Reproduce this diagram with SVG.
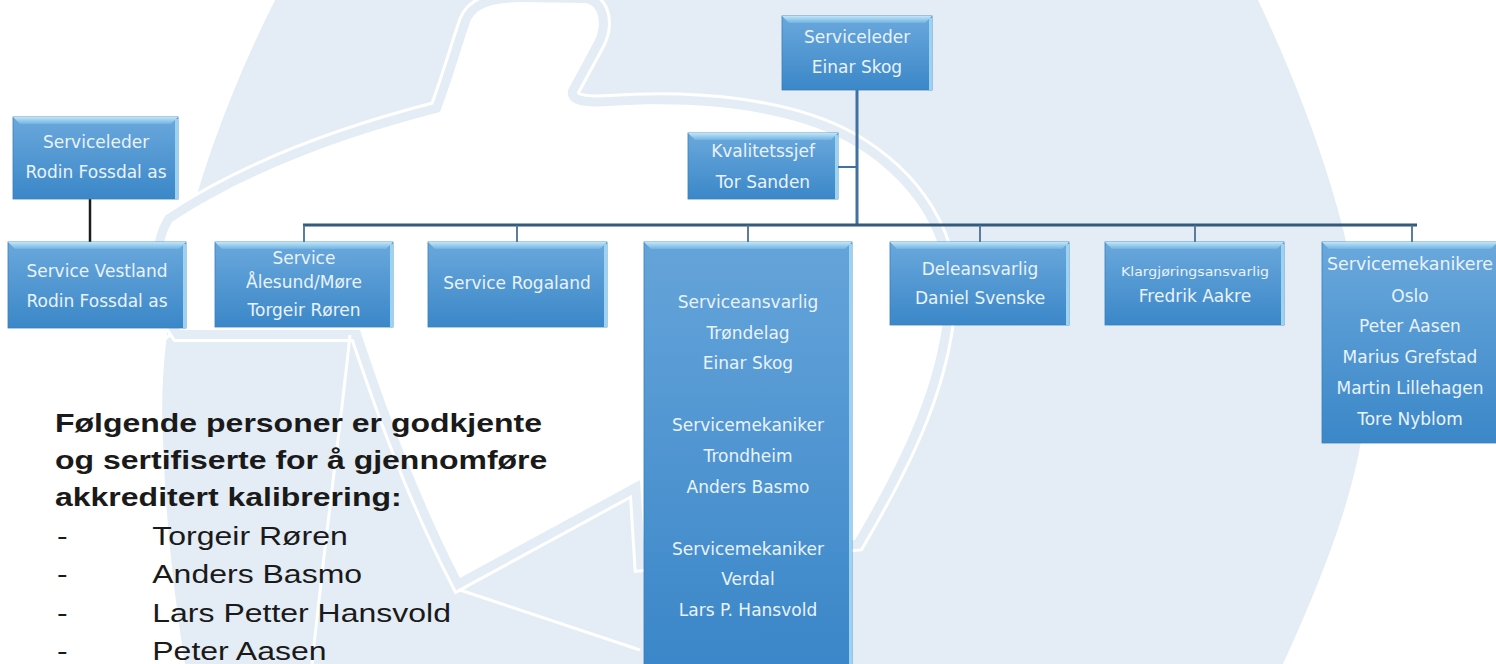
<svg xmlns="http://www.w3.org/2000/svg" width="1496" height="664" viewBox="0 0 1496 664">
<defs>
<linearGradient id="gBox" x1="0" y1="0" x2="0" y2="1">
<stop offset="0" stop-color="#6aa8dc"/>
<stop offset="1" stop-color="#3b87c8"/>
</linearGradient>
<linearGradient id="gTall" x1="0" y1="0" x2="0" y2="1">
<stop offset="0" stop-color="#65a4da"/>
<stop offset="1" stop-color="#3a86c8"/>
</linearGradient>
<linearGradient id="gBevel" x1="0" y1="0" x2="0" y2="1">
<stop offset="0" stop-color="#bfe6f8"/>
<stop offset="1" stop-color="#72b3e2"/>
</linearGradient>
<style>
.box{fill:url(#gBox);stroke:#3a7fba;stroke-width:0.8}
.tall{fill:url(#gTall);stroke:#3a7fba;stroke-width:0.8}
.bev{fill:url(#gBevel)}
.edge{fill:#9dd3f2}
.t{font-family:"DejaVu Sans","Liberation Sans",sans-serif;font-size:17px;fill:#e9f3fb;text-anchor:middle}
.ts{font-size:13px}
.bus{stroke:#33597b;stroke-width:3;fill:none}
.main{stroke:#3f72a0;stroke-width:3;fill:none}
.drop{stroke:#4a7192;stroke-width:1.8;fill:none}
.blk{stroke:#1c1c1c;stroke-width:2.5;fill:none}
.pb{font-family:"Liberation Sans",Arial,sans-serif;font-size:25px;font-weight:bold;fill:#1a1a1a}
.pr{font-family:"Liberation Sans",Arial,sans-serif;font-size:25px;fill:#1a1a1a}
.wm{fill:#e4edf5}
.wl{fill:none;stroke:#ffffff;stroke-width:3}
</style>
</defs>

<!-- background watermark -->
<g id="background">
<rect x="0" y="0" width="1496" height="664" fill="#ffffff"/>
<path class="wm" d="M275,0 C205,140 155,300 163,440 C166,530 175,600 185,664 L1283,664 C1340,540 1368,450 1366,380 C1362,250 1310,110 1258,0 Z"/>
<g>
<path d="M172,222 C250,170 350,135 440,112 C452,80 462,45 470,22 C476,8 490,3 520,2 L585,3 C600,5 602,25 595,40 L568,90 C566,104 580,108 610,106 C700,100 790,110 848,142 C915,180 950,240 945,300 C940,380 905,455 855,540 L645,560 L640,480 L460,578 C420,500 390,420 360,330 L180,330 C160,300 155,250 172,222 Z" fill="none" stroke="#ffffff" stroke-width="24"/>
<path d="M172,222 C250,170 350,135 440,112 C452,80 462,45 470,22 C476,8 490,3 520,2 L585,3 C600,5 602,25 595,40 L568,90 C566,104 580,108 610,106 C700,100 790,110 848,142 C915,180 950,240 945,300 C940,380 905,455 855,540 L645,560 L640,480 L460,578 C420,500 390,420 360,330 L180,330 C160,300 155,250 172,222 Z" fill="none" stroke="#e4edf5" stroke-width="18"/>
<path d="M172,222 C250,170 350,135 440,112 C452,80 462,45 470,22 C476,8 490,3 520,2 L585,3 C600,5 602,25 595,40 L568,90 C566,104 580,108 610,106 C700,100 790,110 848,142 C915,180 950,240 945,300 C940,380 905,455 855,540 L645,560 L640,480 L460,578 C420,500 390,420 360,330 L180,330 C160,300 155,250 172,222 Z" fill="#ffffff"/>
</g>
<path class="wl" d="M460,590 L640,650"/>
<path class="wl" d="M350,335 C340,430 325,540 312,664"/>
<path class="wl" d="M170,335 C120,380 60,345 0,340"/>
<path class="wl" d="M610,250 C650,280 650,340 600,420"/>
</g>

<!-- connectors -->
<g id="connectors">
<path class="main" d="M857,90 L857,225"/>
<path class="main" d="M838,167 L857,167" style="stroke-width:2"/>
<path class="bus" d="M303,225 L1417,225"/>
<path class="drop" d="M304,225 L304,242"/>
<path class="drop" d="M517,225 L517,242"/>
<path class="drop" d="M748,225 L748,242"/>
<path class="drop" d="M980,225 L980,242"/>
<path class="drop" d="M1195,225 L1195,242"/>
<path class="drop" d="M1412,225 L1412,242"/>
<path class="blk" d="M90,199 L90,243"/>
</g>

<!-- nodes -->
<g id="n-serviceleder-einar">
<rect class="box" x="782" y="16" width="150" height="74"/>
<path class="bev" d="M782,16 H932 L925,23 H789 Z"/>
<rect class="edge" x="929" y="18" width="3" height="72"/>
<text class="t" x="857" y="43">Serviceleder</text>
<text class="t" x="857" y="73">Einar Skog</text>
</g>

<g id="n-kvalitetssjef">
<rect class="box" x="688" y="133" width="150" height="66"/>
<path class="bev" d="M688,133 H838 L831,140 H695 Z"/>
<rect class="edge" x="835" y="135" width="3" height="64"/>
<text class="t" x="763" y="157">Kvalitetssjef</text>
<text class="t" x="763" y="188">Tor Sanden</text>
</g>

<g id="n-serviceleder-rodin">
<rect class="box" x="13" y="117" width="165" height="82"/>
<path class="bev" d="M13,117 H178 L171,124 H20 Z"/>
<rect class="edge" x="175" y="119" width="3" height="80"/>
<text class="t" x="96" y="148">Serviceleder</text>
<text class="t" x="96" y="178">Rodin Fossdal as</text>
</g>

<g id="n-vestland">
<rect class="box" x="8" y="242" width="178" height="86"/>
<path class="bev" d="M8,242 H186 L179,249 H15 Z"/>
<rect class="edge" x="183" y="244" width="3" height="84"/>
<text class="t" x="97" y="277">Service Vestland</text>
<text class="t" x="97" y="307">Rodin Fossdal as</text>
</g>

<g id="n-alesund">
<rect class="box" x="215" y="242" width="178" height="85"/>
<path class="bev" d="M215,242 H393 L386,249 H222 Z"/>
<rect class="edge" x="390" y="244" width="3" height="83"/>
<text class="t" x="304" y="264">Service</text>
<text class="t" x="304" y="288">Ålesund/Møre</text>
<text class="t" x="304" y="316">Torgeir Røren</text>
</g>

<g id="n-rogaland">
<rect class="box" x="428" y="242" width="179" height="85"/>
<path class="bev" d="M428,242 H607 L600,249 H435 Z"/>
<rect class="edge" x="604" y="244" width="3" height="83"/>
<text class="t" x="517" y="289">Service Rogaland</text>
</g>

<g id="n-trondelag">
<rect class="tall" x="644" y="242" width="208" height="430"/>
<path class="bev" d="M644,242 H852 L845,249 H651 Z"/>
<rect class="edge" x="849" y="244" width="3" height="428"/>
<text class="t" x="748" y="308">Serviceansvarlig</text>
<text class="t" x="748" y="339">Trøndelag</text>
<text class="t" x="748" y="369">Einar Skog</text>
<text class="t" x="748" y="431">Servicemekaniker</text>
<text class="t" x="748" y="462">Trondheim</text>
<text class="t" x="748" y="493">Anders Basmo</text>
<text class="t" x="748" y="555">Servicemekaniker</text>
<text class="t" x="748" y="585">Verdal</text>
<text class="t" x="748" y="616">Lars P. Hansvold</text>
</g>

<g id="n-deleansvarlig">
<rect class="box" x="890" y="242" width="179" height="83"/>
<path class="bev" d="M890,242 H1069 L1062,249 H897 Z"/>
<rect class="edge" x="1066" y="244" width="3" height="81"/>
<text class="t" x="980" y="275">Deleansvarlig</text>
<text class="t" x="980" y="304">Daniel Svenske</text>
</g>

<g id="n-klargjoring">
<rect class="box" x="1105" y="242" width="179" height="83"/>
<path class="bev" d="M1105,242 H1284 L1277,249 H1112 Z"/>
<rect class="edge" x="1281" y="244" width="3" height="81"/>
<text class="t ts" x="1195" y="276" textLength="148" lengthAdjust="spacingAndGlyphs">Klargjøringsansvarlig</text>
<text class="t" x="1195" y="302">Fredrik Aakre</text>
</g>

<g id="n-oslo">
<rect class="box" x="1322" y="242" width="176" height="201"/>
<path class="bev" d="M1322,242 H1498 L1491,249 H1329 Z"/>
<text class="t" x="1410" y="270" textLength="166" lengthAdjust="spacingAndGlyphs">Servicemekanikere</text>
<text class="t" x="1410" y="302">Oslo</text>
<text class="t" x="1410" y="332">Peter  Aasen</text>
<text class="t" x="1410" y="363">Marius Grefstad</text>
<text class="t" x="1410" y="394">Martin Lillehagen</text>
<text class="t" x="1410" y="425">Tore Nyblom</text>
</g>

<!-- text block -->
<g id="note" transform="translate(55,0) scale(1.28,1)">
<text class="pb" x="0" y="432">Følgende personer er godkjente</text>
<text class="pb" x="0" y="469">og sertifiserte for å gjennomføre</text>
<text class="pb" x="0" y="506">akkreditert kalibrering:</text>
<text class="pr" x="1.5" y="545">-</text>
<text class="pr" x="76" y="545">Torgeir Røren</text>
<text class="pr" x="1.5" y="583">-</text>
<text class="pr" x="76" y="583">Anders Basmo</text>
<text class="pr" x="1.5" y="622">-</text>
<text class="pr" x="76" y="622">Lars Petter Hansvold</text>
<text class="pr" x="1.5" y="660">-</text>
<text class="pr" x="76" y="660">Peter Aasen</text>
</g>
</svg>
